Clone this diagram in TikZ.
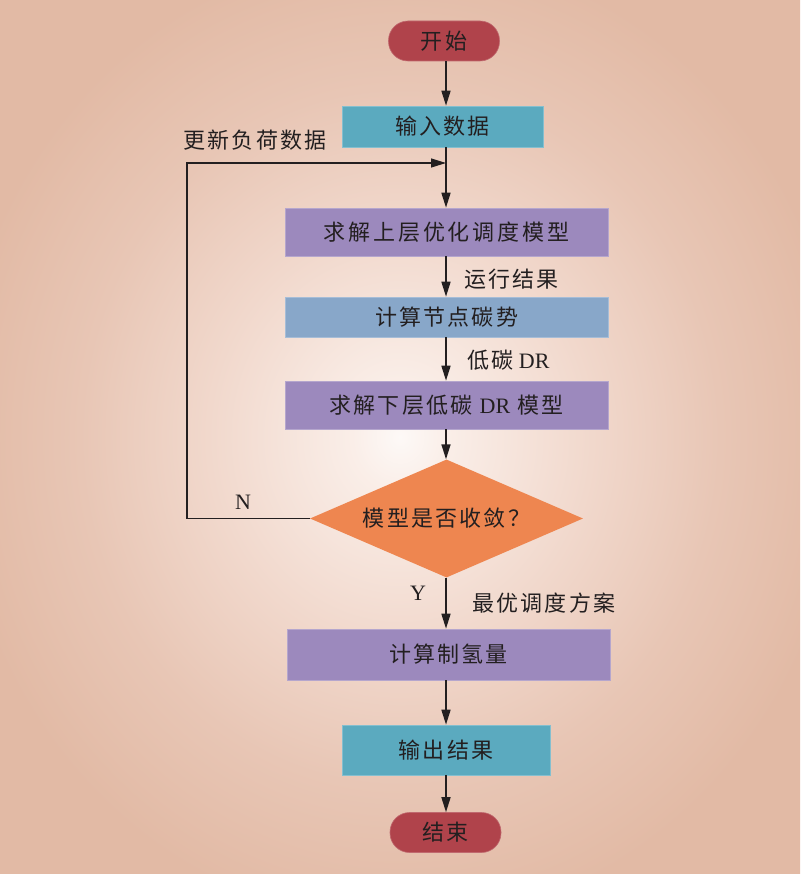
\documentclass[tikz,border=0pt]{standalone}
\usepackage{fontspec}
\setmainfont{Liberation Serif}
\newfontfamily\cjk[LetterSpace=10]{Noto Sans CJK SC}
\usetikzlibrary{shapes.geometric,arrows.meta}
\definecolor{bgout}{HTML}{E2BAA5}
\definecolor{bgin}{HTML}{FDF9F7}
\definecolor{bga}{HTML}{FAEEE8}
\definecolor{bgb}{HTML}{F1D8CC}
\definecolor{bgc}{HTML}{E8C6B5}
\definecolor{cred}{HTML}{B0434B}
\definecolor{cteal}{HTML}{5BAABF}
\definecolor{cpurple}{HTML}{9C89BD}
\definecolor{cblue}{HTML}{88A7C9}
\definecolor{corange}{HTML}{EE8650}
\definecolor{txt}{HTML}{231F20}
\pgfdeclareradialshading{bgshade}{\pgfpoint{0bp}{0bp}}{color(0bp)=(bgin); color(3bp)=(bga); color(12bp)=(bgb); color(20bp)=(bgc); color(28bp)=(bgout); color(50bp)=(bgout)}
\tikzset{
  lab/.style={text=txt, inner sep=0pt, font={\fontsize{22}{26}\selectfont}},
  box/.style={rectangle, inner sep=0pt, text=txt, font={\fontsize{22}{26}\selectfont\cjk}},
  pill/.style={box, fill=cred, draw=cred!80!white, line width=0.6pt, rounded corners=19.5pt, minimum width=111pt, minimum height=40pt},
  arr/.style={draw=txt, line width=1.6pt, -{Triangle[length=15pt,width=9pt]}},
  fb/.style={draw=txt, line width=1.3pt, -{Triangle[length=15pt,width=9pt]}}
}
\begin{document}
\begin{tikzpicture}[x=1pt,y=-1pt]
\shade[shading=bgshade] (0,0) rectangle (800,874);
\useasboundingbox (0,0) rectangle (800,874);
\coordinate (m) at (446,0);
\coordinate (fbx) at (187,0);
\coordinate (join) at (446,163);

\node[pill] (start) at (444,41) {开始};
\node[box, fill=cteal, draw=cteal!75!white, line width=0.6pt, minimum width=201pt, minimum height=41pt] (input) at (442.5,126.5) {输入数据};
\node[box, fill=cpurple, draw=cpurple!75!white, line width=0.6pt, minimum width=323pt, minimum height=48pt] (upper) at (446.5,232) {\addfontfeature{LetterSpace=13}求解上层优化调度模型};
\node[box, fill=cblue, draw=cblue!75!white, line width=0.6pt, minimum width=323pt, minimum height=40pt] (carbon) at (446.5,317) {计算节点碳势};
\node[box, fill=cpurple, draw=cpurple!75!white, line width=0.6pt, minimum width=323pt, minimum height=48pt] (lower) at (446.5,405) {求解下层低碳\ {\rmfamily DR}\ 模型};
\node[box, shape=diamond, aspect=2.3, fill=corange, minimum width=273pt, minimum height=118pt] (dia) at (446.5,518.5) {模型是否收敛？};
\node[box, fill=cpurple, draw=cpurple!75!white, line width=0.6pt, minimum width=323pt, minimum height=51pt] (hyd) at (448.5,654.5) {计算制氢量};
\node[box, fill=cteal, draw=cteal!75!white, line width=0.6pt, minimum width=208pt, minimum height=50pt] (output) at (446,750) {输出结果};
\node[pill] (end) at (445.5,832.5) {结束};

\draw[arr] (start.south -| m) -- (input.north -| m);
\draw[arr] (input.south -| m) -- (upper.north -| m);
\draw[arr] (upper.south -| m) -- (carbon.north -| m);
\draw[arr] (carbon.south -| m) -- (lower.north -| m);
\draw[arr] (lower.south -| m) -- (dia.north -| m);
\draw[arr] (dia.south -| m) -- (hyd.north -| m);
\draw[arr] (hyd.south -| m) -- (output.north -| m);
\draw[arr] (output.south -| m) -- (end.north -| m);
\draw[fb] (dia.west) -- (dia.west -| fbx) |- (join);

\node[lab, font={\fontsize{22}{26}\selectfont\cjk}] (l1) at (255,140) {更新负荷数据};
\node[lab, anchor=west, font={\fontsize{22}{26}\selectfont\cjk}] (l2) at (464,279) {运行结果};
\node[lab, anchor=west] (l3) at (467,360) {{\cjk 低碳}\ DR};
\node[lab] (l4) at (243,502) {N};
\node[lab] (l5) at (418,593) {Y};
\node[lab, anchor=west, font={\fontsize{22}{26}\selectfont\cjk}] (l6) at (472,603) {最优调度方案};
\end{tikzpicture}
\end{document}
